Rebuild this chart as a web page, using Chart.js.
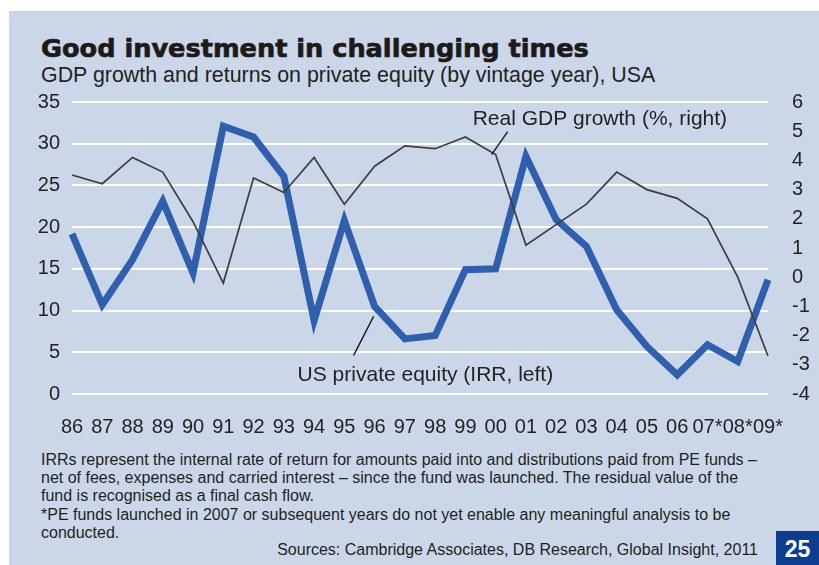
<!DOCTYPE html>
<html lang="en">
<head>
    <meta charset="UTF-8">
    <title>Good investment in challenging times</title>
    <style>
        body { margin: 0; background: #fff; }
        .page { position: relative; width: 819px; height: 565px; overflow: hidden; background: #fff; color: #231f20; font-family: "Liberation Sans", Arial, sans-serif; }
        .panel { position: absolute; left: 9px; top: 11px; right: 0; bottom: 0; background: #cbd7e9; }
        .title { position: absolute; left: 41px; top: 36px; font: bold 25.6px "DejaVu Sans", sans-serif; line-height: 25.8px; white-space: nowrap; color: #1d1a1a; -webkit-text-stroke: 0.7px #1d1a1a; }
        .subtitle { position: absolute; left: 41px; top: 65px; font-size: 21.4px; line-height: 21px; white-space: nowrap; }
        .chart-box { position: absolute; left: 0; top: 0; width: 819px; height: 440px; }
        .notes { position: absolute; left: 41px; top: 451px; font-size: 16px; line-height: 18.2px; white-space: nowrap; }
        .sources { position: absolute; right: 61px; top: 541px; font-size: 16px; line-height: 18px; white-space: nowrap; }
        .page-no { position: absolute; left: 776px; top: 531px; right: 0; bottom: 0; background: #0b3d91; color: #fff; font: bold 23px "Liberation Sans", Arial, sans-serif; text-align: center; line-height: 36px; }
    </style>
</head>
<body>
    <div class="page">
        <div class="panel"></div>
        <div class="title">Good investment in challenging times</div>
        <div class="subtitle">GDP growth and returns on private equity (by vintage year), USA</div>
        <div class="chart-box">
            <canvas id="chart"></canvas>
        </div>
        <div class="notes">
            IRRs represent the internal rate of return for amounts paid into and distributions paid from PE funds –<br>
            net of fees, expenses and carried interest – since the fund was launched. The residual value of the<br>
            fund is recognised as a final cash flow.<br>
            *PE funds launched in 2007 or subsequent years do not yet enable any meaningful analysis to be<br>
            conducted.
        </div>
        <div class="sources">Sources: Cambridge Associates, DB Research, Global Insight, 2011</div>
        <div class="page-no">25</div>
    </div>

    <script src="https://cdn.jsdelivr.net/npm/chart.js"></script>
    <script>
        // vintage years (x axis)
        const years = ['86', '87', '88', '89', '90', '91', '92', '93', '94', '95', '96', '97',
                       '98', '99', '00', '01', '02', '03', '04', '05', '06', '07*', '08*', '09*'];

        // US private equity IRR, % (left axis)
        const irr = [19.2, 10.7, 16.1, 23.1, 14.5, 32.1, 30.8, 26.1, 8.8, 20.8, 10.5, 6.6,
                     7.0, 14.9, 15.0, 28.5, 20.9, 17.7, 10.1, 5.7, 2.3, 5.9, 3.9, 13.7];

        // real GDP growth, % (right axis)
        const gdp = [3.5, 3.2, 4.1, 3.6, 1.9, -0.2, 3.4, 2.9, 4.1, 2.5, 3.8, 4.5,
                     4.4, 4.8, 4.2, 1.1, 1.8, 2.5, 3.6, 3.0, 2.7, 2.0, 0.0, -2.7];

        // axis ranges: [min, max, step]
        const leftRange = [0, 35, 5];
        const rightRange = [-4, 6, 1];

        const textColor = '#231f20';
        const font = '"Liberation Sans", Arial, sans-serif';

        // labels with little pointer lines, hooked to a data point
        const callouts = {
            id: 'callouts',
            afterDatasetsDraw(chart) {
                const { ctx, scales } = chart;
                ctx.save();
                ctx.strokeStyle = '#111';
                ctx.lineWidth = 1.3;
                ctx.fillStyle = textColor;
                ctx.font = '21px ' + font;
                ctx.textBaseline = 'alphabetic';

                // Real GDP growth -> year 00
                let x = scales.x.getPixelForValue(14);
                let y = scales.yRight.getPixelForValue(gdp[14]);
                ctx.beginPath();
                ctx.moveTo(x + 12, y - 23);
                ctx.lineTo(x - 4, y);
                ctx.stroke();
                ctx.fillText('Real GDP growth (%, right)', x - 23, y - 30);

                // US private equity -> year 96
                x = scales.x.getPixelForValue(10);
                y = scales.yLeft.getPixelForValue(irr[10]);
                ctx.beginPath();
                ctx.moveTo(x - 21, y + 49);
                ctx.lineTo(x - 1, y + 10);
                ctx.stroke();
                ctx.fillText('US private equity (IRR, left)', x - 77, y + 75);

                ctx.restore();
            }
        };

        const ctx = document.getElementById('chart').getContext('2d');
        const chart = new Chart(ctx, {
            type: 'line',
            data: {
                labels: years,
                datasets: [
                    {
                        label: 'Real GDP growth (%, right)',
                        data: gdp,
                        yAxisID: 'yRight',
                        borderColor: '#3d3d3d',
                        borderWidth: 1.7,
                        pointRadius: 0,
                        tension: 0,
                        order: 1
                    },
                    {
                        label: 'US private equity (IRR, left)',
                        data: irr,
                        yAxisID: 'yLeft',
                        borderColor: '#3060ad',
                        borderWidth: 7,
                        pointRadius: 0,
                        tension: 0,
                        order: 2
                    }
                ]
            },
            options: {
                responsive: true,
                maintainAspectRatio: false,
                animation: false,
                layout: { padding: { top: 102, left: 0, right: 0, bottom: 0 } },
                plugins: {
                    legend: { display: false },
                    tooltip: { enabled: false }
                },
                elements: { line: { clip: false } },
                scales: {
                    x: {
                        grid: { display: false },
                        border: { display: false },
                        ticks: {
                            color: textColor,
                            font: { family: font, size: 20 },
                            padding: 13,
                            autoSkip: false,
                            maxRotation: 0
                        },
                        afterFit(s) { s.height = 46; }
                    },
                    yLeft: {
                        position: 'left',
                        min: leftRange[0],
                        max: leftRange[1],
                        grid: { color: '#ffffff', lineWidth: 2, drawTicks: false },
                        border: { display: false },
                        ticks: {
                            stepSize: leftRange[2],
                            color: textColor,
                            font: { family: font, size: 20 },
                            padding: 12
                        },
                        afterFit(s) { s.width = 72; }
                    },
                    yRight: {
                        position: 'right',
                        min: rightRange[0],
                        max: rightRange[1],
                        grid: { display: false },
                        border: { display: false },
                        ticks: {
                            stepSize: rightRange[2],
                            color: textColor,
                            font: { family: font, size: 20 },
                            padding: 16
                        },
                        afterFit(s) { s.width = 51; }
                    }
                }
            },
            plugins: [callouts]
        });
    </script>
</body>
</html>
